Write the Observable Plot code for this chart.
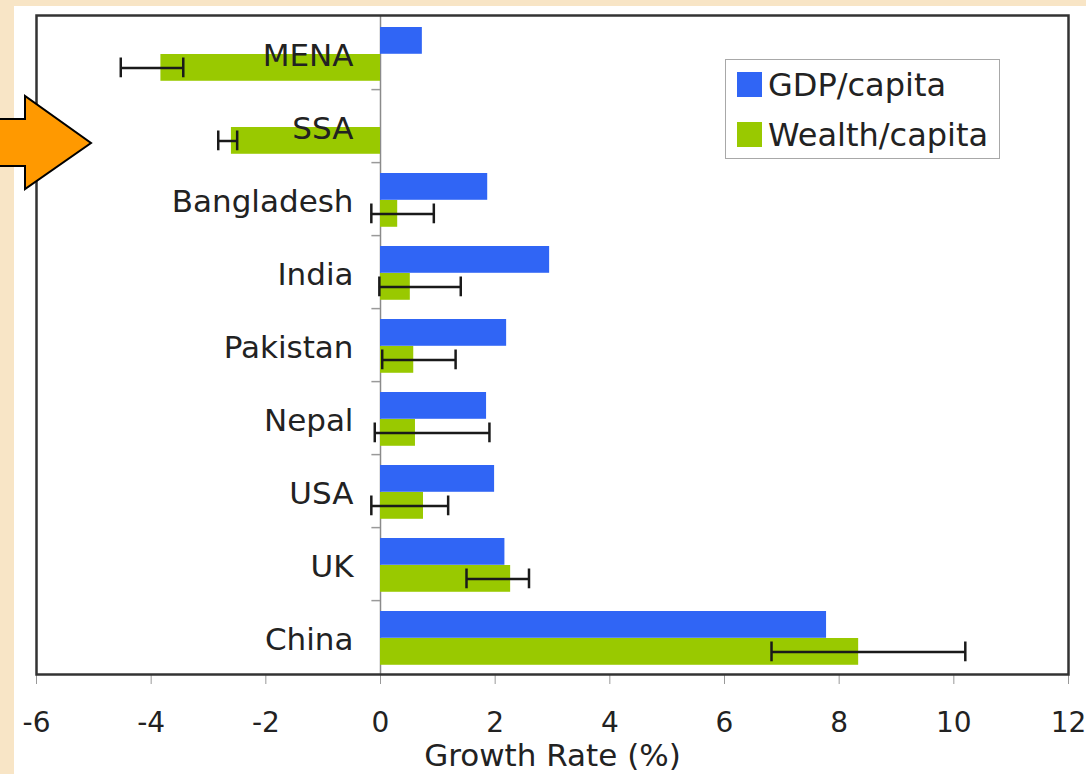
<!DOCTYPE html>
<html>
<head>
<meta charset="utf-8">
<script src="https://cdn.jsdelivr.net/npm/d3@7"></script>
<script src="https://cdn.jsdelivr.net/npm/@observablehq/plot@0.6"></script>
<style>
  html, body { margin: 0; padding: 0; }
  body { background: #f8e5c6; width: 1086px; height: 774px; overflow: hidden; font-family: "DejaVu Sans", Verdana, sans-serif; }
  #wrap { position: relative; width: 1086px; height: 774px; }
  #panel { position: absolute; left: 14px; top: 6px; right: 0; bottom: 0; background: #ffffff; }
  #chart { position: absolute; left: 0; top: 0; }
  #legend { position: absolute; left: 725px; top: 59px; width: 273px; height: 98px; border: 1.5px solid #a8a8a8; background: #fff; }
  .sw { position: absolute; left: 11px; width: 25px; height: 25px; }
  .lt { position: absolute; left: 42px; font-size: 32px; line-height: 32px; color: #222; white-space: nowrap; }
  #arrow { position: absolute; left: 0; top: 0; }
</style>
</head>
<body>
<div id="wrap">
  <div id="panel"></div>
  <div id="chart"></div>
  <div id="legend"></div>
  <svg id="arrow" width="100" height="200">
    <path d="M -5 119 L 25 119 L 25 96 L 91 143 L 25 189 L 25 166 L -5 166 Z" fill="#ff9900" stroke="#000" stroke-width="2" stroke-linejoin="miter"/>
  </svg>
</div>
<script>
// ---- data ----
const categories = ["MENA", "SSA", "Bangladesh", "India", "Pakistan", "Nepal", "USA", "UK", "China"];
const gdpPerCapita = [0.73, 0, 1.87, 2.95, 2.2, 1.85, 1.99, 2.17, 7.78];
const wealthPerCapita = [-3.83, -2.6, 0.3, 0.52, 0.58, 0.61, 0.75, 2.27, 8.34];
const wealthErrLow = [-4.53, -2.83, -0.16, -0.02, 0.03, -0.1, -0.16, 1.5, 6.82];
const wealthErrHigh = [-3.44, -2.5, 0.93, 1.40, 1.31, 1.9, 1.18, 2.59, 10.2];
const seriesNames = ["GDP/capita", "Wealth/capita"];
const seriesColors = ["#3065f5", "#99c900"];
const xTicks = [-6, -4, -2, 0, 2, 4, 6, 8, 10, 12];
const xLabel = "Growth Rate (%)";

const rows = categories.map((c, i) => ({
  cat: c, gdp: gdpPerCapita[i], wealth: wealthPerCapita[i],
  lo: wealthErrLow[i], hi: wealthErrHigh[i]
}));

const W = 1086, H = 774;
const mTop = 15, mBottom = 100, mLeft = 36, mRight = 18;
const bw = (H - mTop - mBottom) / categories.length;

const plot = Plot.plot({
  width: W, height: H,
  marginTop: mTop, marginBottom: mBottom, marginLeft: mLeft, marginRight: mRight,
  style: { background: "transparent", fontFamily: "DejaVu Sans, Verdana, sans-serif", color: "#222" },
  x: { domain: [-6, 12] },
  y: { domain: categories, padding: 0, axis: null },
  marks: [
    Plot.ruleX([0], { stroke: "#8a8a8a", strokeWidth: 1.5 }),
    Plot.ruleY(categories.slice(0, -1), { y: d => d, x1: -0.15, x2: 0, dy: bw / 2, stroke: "#9a9a9a", strokeWidth: 1.5 }),
    Plot.barX(rows, { y: "cat", x1: 0, x2: "gdp", fill: seriesColors[0], insetTop: 11, insetBottom: bw - 38 }),
    Plot.barX(rows, { y: "cat", x1: 0, x2: "wealth", fill: seriesColors[1], insetTop: 38, insetBottom: bw - 65 }),
    Plot.ruleY(rows, { y: "cat", x1: "lo", x2: "hi", dy: 15, stroke: "#1a1a1a", strokeWidth: 2.5 }),
    Plot.tickX(rows, { y: "cat", x: "lo", insetTop: 41.5, insetBottom: bw - 61.5, stroke: "#1a1a1a", strokeWidth: 2.5 }),
    Plot.tickX(rows, { y: "cat", x: "hi", insetTop: 41.5, insetBottom: bw - 61.5, stroke: "#1a1a1a", strokeWidth: 2.5 }),
    Plot.text(categories, { y: d => d, x: 0, dx: -27, dy: 3, text: d => d, textAnchor: "end", fontSize: 31, fill: "#222" }),
    Plot.axisX(xTicks, { tickSize: 10, tickPadding: 28, fontSize: 28, stroke: "#999", fill: "#222", tickFormat: d => String(d), label: null }),
    Plot.text([xLabel], { frameAnchor: "bottom", dy: 91, fontSize: 31, fill: "#222" }),
    Plot.frame({ stroke: "#333", strokeWidth: 2.5 })
  ]
});
document.getElementById("chart").appendChild(plot);

// legend
const lg = document.getElementById("legend");
seriesNames.forEach((name, i) => {
  const sw = document.createElement("div");
  sw.className = "sw";
  sw.style.top = (12 + i * 50) + "px";
  sw.style.background = seriesColors[i];
  lg.appendChild(sw);
  const t = document.createElement("div");
  t.className = "lt";
  t.style.top = (9 + i * 50) + "px";
  t.textContent = name;
  lg.appendChild(t);
});
</script>
</body>
</html>
